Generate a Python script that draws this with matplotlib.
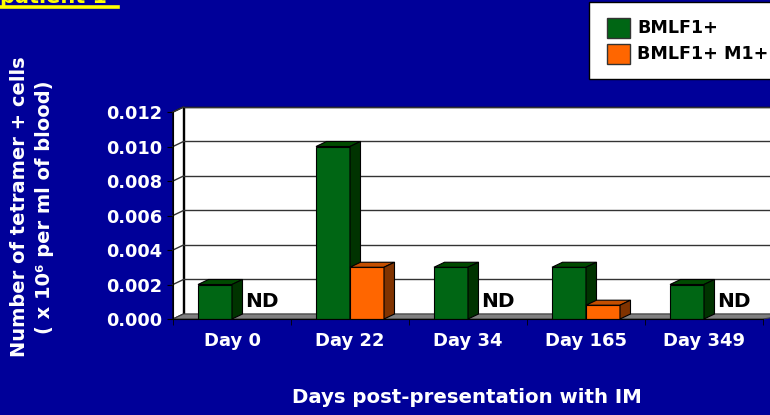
#!/usr/bin/env python3

import numpy as np
import matplotlib
matplotlib.use('Agg')
import matplotlib.pyplot as plt
from matplotlib.patches import Polygon, Rectangle
from matplotlib.lines import Line2D

# data
days = ['Day 0', 'Day 22', 'Day 34', 'Day 165', 'Day 349']
bmlf1 = [0.002, 0.010, 0.003, 0.003, 0.002]
bmlf1_m1 = [None, 0.003, None, 0.0008, None]   # None = ND
yticks = [0.000, 0.002, 0.004, 0.006, 0.008, 0.010, 0.012]

bg = '#000099'
green = ('#006614', '#003300', '#004a00')     # face, side, top
orange = ('#ff6600', '#803300', '#c44f00')

W, H = 770, 415
fig = plt.figure(figsize=(W/100, H/100), dpi=100, facecolor=bg)

# front plane of the fake 3d chart, in pixels
x0px, x1px, ybot, ytop = 173, 770, 319, 107
ax = fig.add_axes([x0px/W, (H-ybot)/H, (x1px-x0px)/W, (ybot-ytop)/H])
ax.set_facecolor('none')

catw = 118.0                  # px per category
dx = 10.5/catw                # depth in data units
dy = 0.00029
bw = 34/catw
ax.set_xlim(-0.5, -0.5 + (x1px-x0px)/catw)
ax.set_ylim(0, 0.012 + dy)
xr = ax.get_xlim()[1] + 0.2

# back wall, side wall, floor
ax.add_patch(Polygon([(-0.5+dx, dy), (xr, dy), (xr, 0.012+dy), (-0.5+dx, 0.012+dy)],
	closed=True, fc='white', ec='black', lw=1.0, clip_on=False, zorder=1))
ax.add_patch(Polygon([(-0.5, 0), (-0.5+dx, dy), (-0.5+dx, 0.012+dy), (-0.5, 0.012)],
	closed=True, fc='white', ec='black', lw=1.0, clip_on=False, zorder=1))
for v in yticks[1:]:
	ax.plot([-0.5+dx, xr], [v+dy, v+dy], color='#333333', lw=1.0, zorder=2, clip_on=False)
	ax.plot([-0.5, -0.5+dx], [v, v+dy], color='#333333', lw=1.0, zorder=2, clip_on=False)
ax.add_patch(Polygon([(-0.5, 0), (-0.5+dx, dy), (xr, dy), (4.5, 0)],
	closed=True, fc='#808080', ec='#404040', lw=0.8, clip_on=False, zorder=2))


def bar3d(x, h, cols):
	face, side, top = cols
	ax.bar([x], [h], width=bw, align='edge', color=face, edgecolor='black', lw=0.8, zorder=5)
	ax.add_patch(Polygon([(x, h), (x+dx, h+dy), (x+bw+dx, h+dy), (x+bw, h)],
		closed=True, fc=top, ec='black', lw=0.8, zorder=5))
	ax.add_patch(Polygon([(x+bw, 0), (x+bw+dx, dy), (x+bw+dx, h+dy), (x+bw, h)],
		closed=True, fc=side, ec='black', lw=0.8, zorder=5))


for i in range(len(days)):
	bar3d(i - bw, bmlf1[i], green)
	if bmlf1_m1[i] is None:
		ax.text(i + 0.25, 0.00101, 'ND', ha='center', va='center', fontsize=14.5,
			fontweight='bold', color='black', zorder=6)
	else:
		bar3d(i, bmlf1_m1[i], orange)

# axes
for s in ['top', 'right']:
	ax.spines[s].set_visible(False)
ax.spines['left'].set_bounds(0, 0.012)
ax.spines['bottom'].set_bounds(-0.5, 4.5)
ax.spines['left'].set_zorder(7)
ax.spines['bottom'].set_zorder(7)
ax.set_yticks(yticks)
ax.set_yticklabels(['%.3f' % v for v in yticks])
ax.set_xticks(range(len(days)))
ax.set_xticklabels(days)
ax.set_xticks(np.arange(-0.5, 5, 1), minor=True)
ax.tick_params(axis='y', colors='black', labelcolor='white', labelsize=12.8,
	length=4, pad=4)
ax.tick_params(axis='x', which='major', length=0, labelcolor='white', labelsize=13, pad=9)
ax.tick_params(axis='x', which='minor', length=4, color='black')
for t in ax.get_xticklabels() + ax.get_yticklabels():
	t.set_fontweight('bold')

fig.text(467/W, 1 - 397/H, 'Days post-presentation with IM', ha='center', va='center',
	color='white', fontsize=14.2, fontweight='bold')
fig.text(20/W, 1 - 207/H, 'Number of tetramer + cells', rotation=90, ha='center',
	va='center', color='white', fontsize=14, fontweight='bold')
fig.text(45/W, 1 - 207/H, '( x 10\u2076 per ml of blood)', rotation=90, ha='center',
	va='center', color='white', fontsize=14, fontweight='bold')

# title cut off at the top of the slide
fig.text(0/W, 1 - 3/H, 'patient 1', ha='left', va='baseline', color='yellow',
	fontsize=15, fontweight='bold')
fig.lines.append(Line2D([0, 118/W], [1 - 7/H, 1 - 7/H], transform=fig.transFigure,
	color='yellow', lw=2.6))

# legend box
fig.patches.append(Rectangle((589/W, 1 - 79/H), 200/W, 77/H, transform=fig.transFigure,
	fc='white', ec='black', lw=1.0))
for k, (lab, col) in enumerate([('BMLF1+', green[0]), ('BMLF1+ M1+', orange[0])]):
	yc = 28 + 26*k
	fig.patches.append(Rectangle((607/W, 1 - (yc+10)/H), 23/W, 20/H,
		transform=fig.transFigure, fc=col, ec='#333333', lw=1.0))
	fig.text(637/W, 1 - yc/H, lab, ha='left', va='center', color='black',
		fontsize=12.6, fontweight='bold')

fig.savefig('out.png', dpi=100, facecolor=bg)
plt.close(fig)
